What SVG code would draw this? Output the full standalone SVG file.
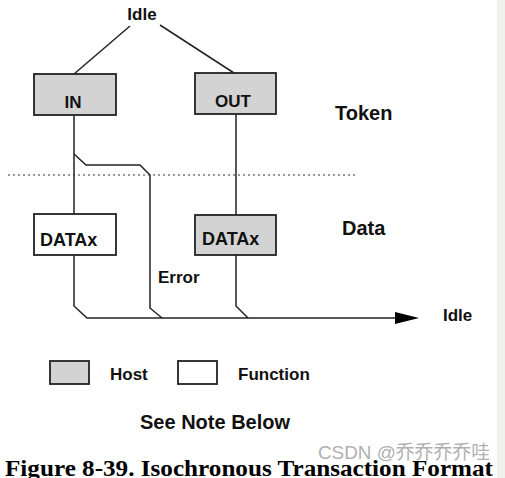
<svg xmlns="http://www.w3.org/2000/svg" width="505" height="478" viewBox="0 0 505 478">
<style>
.t{font-family:"Liberation Sans",Arial,sans-serif;font-weight:bold;font-size:17px;fill:#111}
.big{font-size:20px}
.mid{font-size:18px}
.host{fill:#d3d3d3;stroke:#222;stroke-width:1.8}
.func{fill:#fff;stroke:#222;stroke-width:1.8}
.ln{fill:none;stroke:#222;stroke-width:1.5}
</style>
<defs>
<marker id="ah" viewBox="0 0 24 12" refX="0" refY="6" markerWidth="24" markerHeight="12" markerUnits="userSpaceOnUse" orient="auto">
<path d="M0,0 L24,6 L0,12 Z" fill="#000"/>
</marker>
</defs>
<rect x="0" y="0" width="505" height="478" fill="#fff"/>
<rect x="497" y="0" width="8" height="478" fill="#f1f0ef"/>
<g id="connectors">
<path class="ln" d="M130,26 L74,74"/>
<path class="ln" d="M160,25 L234,73"/>
<path class="ln" d="M74,116 L74,214"/>
<path class="ln" d="M74,154 L86,165 L140,165 L150,175 L150,308 L162,318"/>
<path class="ln" d="M74,255 L74,306 L87,318 L395,318" marker-end="url(#ah)"/>
<path class="ln" d="M236,114 L236,215"/>
<path class="ln" d="M236,255 L236,306 L248,318"/>
<line x1="8" y1="175" x2="355" y2="175" stroke="#333" stroke-width="1.2" stroke-dasharray="2,3"/>
</g>
<g id="idle-top"><text class="t" x="142" y="20" text-anchor="middle">Idle</text></g>
<g id="in"><rect class="host" x="34" y="74" width="82" height="41"/><text class="t" x="73" y="108" text-anchor="middle">IN</text></g>
<g id="out"><rect class="host" x="195" y="73" width="81" height="41"/><text class="t" x="233" y="107" text-anchor="middle">OUT</text></g>
<g id="token"><text class="t big" x="335" y="120">Token</text></g>
<g id="data"><text class="t big" x="342" y="235">Data</text></g>
<g id="datax-func"><rect class="func" x="34" y="214" width="82" height="41"/><text class="t mid" x="40" y="246">DATAx</text></g>
<g id="datax-host"><rect class="host" x="195" y="215" width="81" height="40"/><text class="t mid" x="202" y="245">DATAx</text></g>
<g id="error"><text class="t" x="158" y="283">Error</text></g>
<g id="idle-right"><text class="t" x="443" y="321">Idle</text></g>
<g id="legend-host"><rect class="host" x="50" y="361" width="39" height="23"/><text class="t" x="110" y="380">Host</text></g>
<g id="legend-func"><rect class="func" x="178" y="361" width="39" height="23"/><text class="t" x="238" y="380">Function</text></g>
<g id="note"><text class="t big" x="140" y="429">See Note Below</text></g>
<g id="caption"><text x="5" y="476" font-family="'Liberation Serif','Times New Roman',serif" font-weight="bold" font-size="23" fill="#000" textLength="488" lengthAdjust="spacingAndGlyphs">Figure 8-39.  Isochronous Transaction Format</text></g>
<g id="watermark"><text x="318" y="459" font-family="'Liberation Sans','Noto Sans CJK SC',sans-serif" font-size="19" fill="#999" fill-opacity="0.8" textLength="172" lengthAdjust="spacingAndGlyphs">CSDN @乔乔乔乔哇</text></g>
</svg>
